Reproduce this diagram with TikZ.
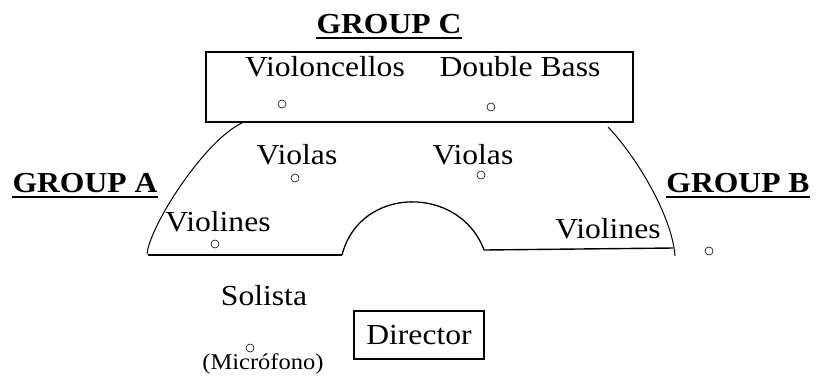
\documentclass[tikz,border=0pt]{standalone}
\usepackage{fontspec}
\setmainfont[FakeStretch=1.09]{Liberation Serif}
\begin{document}
\begin{tikzpicture}[x=1pt,y=-1pt,
  lbl/.style={anchor=base,inner sep=0pt,font=\fontsize{29}{34}\selectfont},
  grp/.style={anchor=base,inner sep=0pt,font=\fontsize{29}{34}\selectfont\bfseries},
  mic/.style={circle,draw,line width=0.6pt,minimum size=8pt,inner sep=0pt},
  uline/.style={line width=2pt},
  rule/.style={line width=1.4pt},
  arcline/.style={line width=1pt}]
\useasboundingbox (0,0) rectangle (821,376);
% group titles
\node[grp] (gc) at (389,33) {GROUP C};
\draw[uline] ([yshift=-5pt]gc.base west) -- ([yshift=-5pt]gc.base east);
\node[grp] (ga) at (85,192) {GROUP A};
\draw[uline] ([yshift=-5pt]ga.base west) -- ([yshift=-5pt]ga.base east);
\node[grp] (gb) at (738,192) {GROUP B};
\draw[uline] ([yshift=-5pt]gb.base west) -- ([yshift=-5pt]gb.base east);
% group C box
\draw[line width=1.2pt] (206,52) rectangle (633,122);
\node[lbl] (vc) at (325,76) {Violoncellos};
\node[lbl] (db) at (520,76) {Double Bass};
\node[mic] (m1) at (282,104) {};
\node[mic] (m2) at (491,107) {};
% violas
\node[lbl] (vl1) at (297,164) {Violas};
\node[mic] (m3) at (295,178) {};
\node[lbl] (vl2) at (473,164) {Violas};
\node[mic] (m4) at (481,175) {};
% violines
\node[lbl] (vn1) at (218,231) {Violines};
\node[mic] (m5) at (215,244) {};
\node[lbl] (vn2) at (608,238) {Violines};
\node[mic] (m6) at (709,251) {};
% stage outline
\draw[arcline] (147,254) .. controls (150,225) and (205,140) .. (242,123);
\draw[rule] (148,255) -- (342,255);
\draw[arcline,line width=1.3pt] (342,255) .. controls (360,185) and (460,185) .. (484,250);
\draw[rule] (484,250) -- (673,248);
\draw[arcline] (608,127) .. controls (635,155) and (672,215) .. (675,256);
% soloist
\node[lbl] (sol) at (264,305) {Solista};
\node[mic] (m7) at (250,348) {};
\node[anchor=base,inner sep=0pt,font=\fontsize{22.5}{27}\selectfont] (mf) at (263,369) {(Micrófono)};
% director
\node[lbl,anchor=center,draw,line width=1.2pt,minimum width=130pt,minimum height=48pt] (dir) at (419,335) {Director};
\end{tikzpicture}
\end{document}
